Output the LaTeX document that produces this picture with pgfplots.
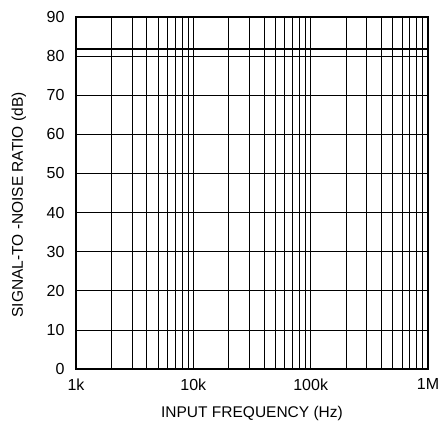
\documentclass[border=0pt]{standalone}
\usepackage{fontspec}
\setmainfont{Liberation Sans}
\usepackage{pgfplots}
\pgfplotsset{compat=1.18}
\begin{document}
\begin{tikzpicture}
\begin{axis}[
    scale only axis,
    width=352pt, height=352pt,
    xmode=log, log basis x=10,
    xmin=1000, xmax=1000000,
    ymin=0, ymax=90,
    xtick={1000,10000,100000,1000000},
    xticklabels={1k,10k,100k,1M},
    minor xtick={2000,3000,4000,5000,6000,7000,8000,9000,
                 20000,30000,40000,50000,60000,70000,80000,90000,
                 200000,300000,400000,500000,600000,700000,800000,900000},
    ytick={0,10,...,90},
    major tick length=0pt, minor tick length=0pt,
    xmajorgrids, xminorgrids, ymajorgrids,
    grid style={black, line width=0.7pt},
    minor grid style={black, line width=0.7pt},
    axis line style={line width=1.2pt},
    /pgf/number format/assume math mode=true,
    ticklabel style={font=\fontsize{16}{18}\selectfont},
    xticklabel style={yshift=-6pt},
    yticklabel style={xshift=-8pt},
    xlabel={INPUT FREQUENCY (Hz)},
    ylabel={SIGNAL-TO -NOISE RATIO (dB)},
    xlabel style={font=\fontsize{15.5}{18}\selectfont, at={(axis description cs:0.5,-0.125)}, anchor=center},
    ylabel style={font=\fontsize{15.5}{18}\selectfont, at={(axis description cs:-0.162,0.466)}, anchor=center},
]
\addplot[black, line width=2.6pt] coordinates {(1000,81.8) (1000000,81.8)};
\end{axis}
\pgfresetboundingbox
\useasboundingbox (-76pt,-52pt) rectangle (366pt,369pt);
\end{tikzpicture}
\end{document}
